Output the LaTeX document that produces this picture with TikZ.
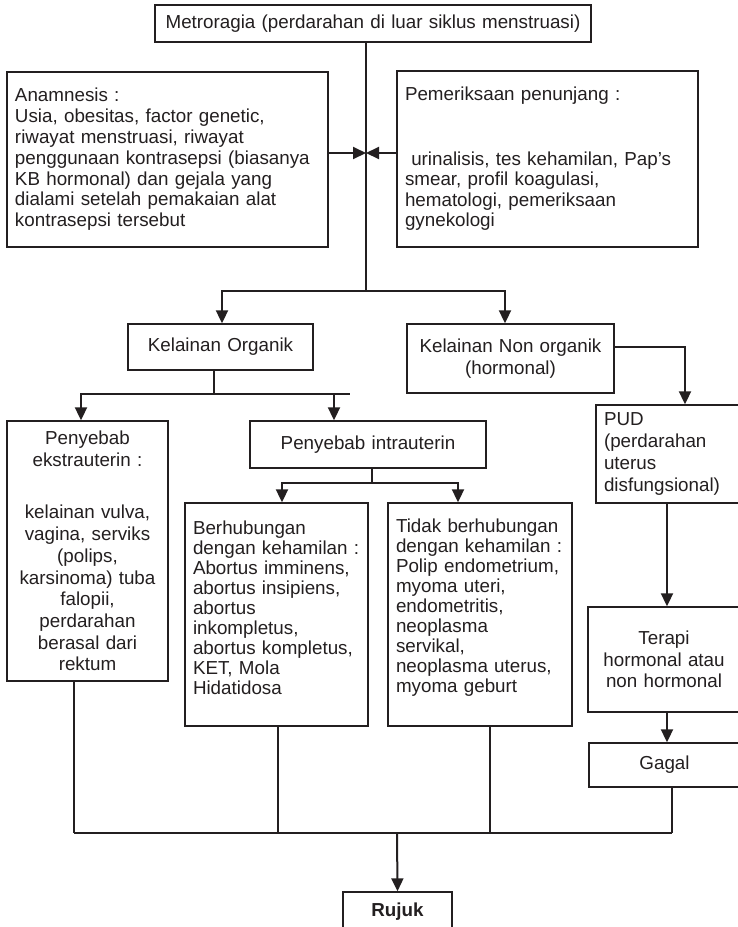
\documentclass[tikz,border=0pt]{standalone}
\usepackage{fontspec}
\setmainfont{Liberation Sans}
\usetikzlibrary{arrows.meta}
\definecolor{ink}{RGB}{35,31,32}
\begin{document}
\begin{tikzpicture}[x=1pt,y=-1pt,
  box/.style={draw=ink, line width=1.4pt, rectangle, inner xsep=8pt, inner ysep=2pt,
    text=ink, font=\fontsize{18.8pt}{21.7pt}\selectfont},
  lbox/.style={box, align=left},
  cbox/.style={box, align=center},
  sz/.style n args={3}{minimum width=#1, minimum height=#2, text width=#3},
  arrowline/.style={draw=ink, line width=2pt, -{Triangle[length=13pt,width=12pt]}},
  bus/.style={draw=ink, line width=1.8pt},
  thinline/.style={draw=ink, line width=1.1pt}]
\fill[white] (0,0) rectangle (738,927);
\useasboundingbox (0,0) rectangle (738,927);

% boxes
\node[cbox, sz={436pt}{37pt}{420pt}] (metro) at (373,23.5)
  {Metroragia (perdarahan di luar siklus menstruasi)};
\node[lbox, sz={321pt}{175pt}{305pt}, font=\fontsize{18.8pt}{20.8pt}\selectfont] (anam) at (167.5,159.5)
  {Anamnesis :\\Usia, obesitas, factor genetic,\\riwayat menstruasi, riwayat\\penggunaan kontrasepsi (biasanya\\KB hormonal) dan gejala yang\\dialami setelah pemakaian alat\\kontrasepsi tersebut};
\node[lbox, sz={301pt}{176pt}{285pt}, font=\fontsize{18.8pt}{20.5pt}\selectfont] (pem) at (547.5,159)
  {Pemeriksaan penunjang :\\[44pt]\ urinalisis, tes kehamilan, Pap’s\\smear, profil koagulasi,\\hematologi, pemeriksaan\\gynekologi};
\node[cbox, sz={185pt}{46pt}{169pt}] (organik) at (220.5,347) {Kelainan Organik};
\node[cbox, sz={207pt}{69pt}{191pt}] (nonorg) at (510.5,358.5) {Kelainan Non organik\\(hormonal)};
\node[lbox, sz={144pt}{98pt}{128pt}] (pud) at (668,454)
  {PUD\\(perdarahan\\uterus\\disfungsional)};
\node[cbox, sz={152pt}{105pt}{136pt}] (terapi) at (664,659.5) {Terapi\\hormonal atau\\non hormonal};
\node[cbox, sz={151pt}{44pt}{135pt}] (gagal) at (664.5,765) {Gagal};
\node[cbox, sz={161pt}{260pt}{145pt}] (ekstra) at (87.5,551)
  {Penyebab\\ekstrauterin :\\[31pt]kelainan vulva,\\vagina, serviks\\(polips,\\karsinoma) tuba\\falopii,\\perdarahan\\berasal dari\\rektum};
\node[cbox, sz={236pt}{47pt}{220pt}] (intra) at (368,444.5) {Penyebab intrauterin};
% a short empty last line lifts these two texts a little above the middle
\node[lbox, sz={183pt}{223pt}{167pt}, font=\fontsize{18.8pt}{20pt}\selectfont] (berhub) at (276.5,614.5)
  {Berhubungan\\dengan kehamilan :\\Abortus imminens,\\abortus insipiens,\\abortus\\inkompletus,\\abortus kompletus,\\KET, Mola\\Hidatidosa\\[-7pt]\mbox{}};
\node[lbox, sz={184pt}{223pt}{168pt}, font=\fontsize{18.8pt}{20pt}\selectfont] (tidak) at (480,614.5)
  {Tidak berhubungan\\dengan kehamilan :\\Polip endometrium,\\myoma uteri,\\endometritis,\\neoplasma\\servikal,\\neoplasma uterus,\\myoma geburt\\[-3pt]\mbox{}};
\node[cbox, sz={109pt}{40pt}{93pt}, font=\fontsize{18.8pt}{21.7pt}\selectfont\bfseries] (rujuk) at (397.5,912) {Rujuk};

% junction points
\coordinate (split) at (366,291);
\coordinate (ay) at (0,153);
\coordinate (obus) at (214,394);
\coordinate (obusend) at (350,394);
\coordinate (ibus) at (372,483);
\coordinate (rbus) at (397,833);

% top part
\draw[thinline] (metro.south -| split) -- (split);
\draw[arrowline] (anam.east |- ay) -- (split |- ay);
\draw[arrowline] (pem.west |- ay) -- (split |- ay);
\draw[arrowline] (split) -| ([xshift=1.5pt]organik.north);
\draw[arrowline] (split) -| ([xshift=-5.5pt]nonorg.north);

% non-organic branch
\draw[arrowline] ([yshift=11.5pt]nonorg.east) -| ([xshift=17pt]pud.north);
\draw[arrowline] ([xshift=-1pt]pud.south) -- ([xshift=3pt]terapi.north);
\draw[arrowline] ([xshift=3pt]terapi.south) -- ([xshift=2.5pt]gagal.north);

% organic branch
\draw[thinline] ([xshift=-6.5pt]organik.south) -- (obus);
\draw[bus] (obus) -- (obusend);
\draw[arrowline] (obus) -| ([xshift=-6.5pt]ekstra.north);
\draw[arrowline] (obus) -| ([xshift=-34pt]intra.north);
\draw[thinline] ([xshift=4pt]intra.south) -- (ibus);
\draw[arrowline] (ibus) -| ([xshift=5.5pt]berhub.north);
\draw[arrowline] (ibus) -| ([xshift=-22pt]tidak.north);

% collecting lines
\draw[thinline] ([xshift=-13.5pt]ekstra.south) -- ([xshift=-13.5pt]ekstra.south |- rbus);
\draw[thinline] ([xshift=1.5pt]berhub.south) -- ([xshift=1.5pt]berhub.south |- rbus);
\draw[thinline] ([xshift=10pt]tidak.south) -- ([xshift=10pt]tidak.south |- rbus);
\draw[thinline] ([xshift=7.5pt]gagal.south) -- ([xshift=7.5pt]gagal.south |- rbus);
\draw[bus] ([xshift=-13.5pt]ekstra.south |- rbus) -- ([xshift=7.5pt]gagal.south |- rbus);
\draw[arrowline] (rbus) -- (rujuk.north);
\end{tikzpicture}
\end{document}
